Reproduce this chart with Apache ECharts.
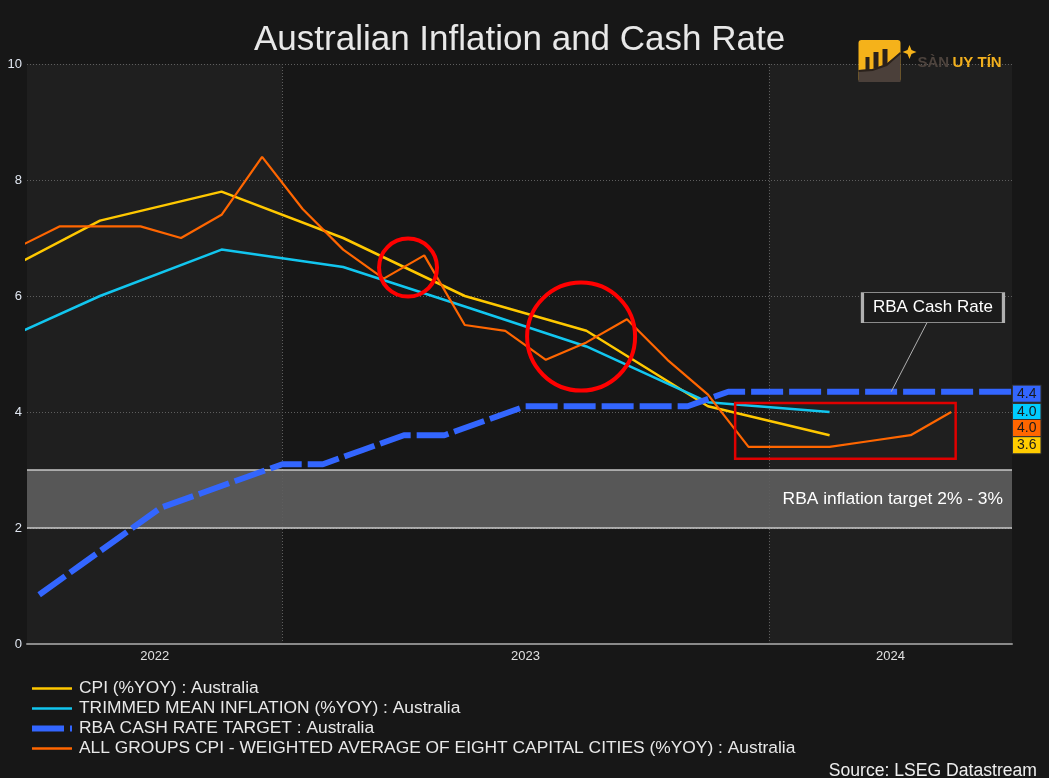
<!DOCTYPE html>
<html><head><meta charset="utf-8">
<script src="https://cdn.jsdelivr.net/npm/echarts@6/dist/echarts.min.js"></script>
<style>html,body{margin:0;padding:0;background:#171717;}#c{width:1049px;height:778px;}</style>
</head><body><div id="c"></div>
<script>
// x positions are months counted from 1 Jan 2022 (12 = Jan 2023, 24 = Jan 2024)
const xMin = 5.7, xMax = 30;
const yearLabels = ['2022', '2023', '2024'];
const yearLabelPos = [8.85, 18, 27];
const yearBoundaries = [12, 24];

const quarterMonths = [4.5, 7.5, 10.5, 13.5, 16.5, 19.5, 22.5, 25.5];
const cpi = [6.2, 7.3, 7.8, 7.0, 6.0, 5.4, 4.1, 3.6];
const trimmedMean = [5.05, 6.0, 6.8, 6.5, 5.82, 5.13, 4.17, 4.0];

const cashMonths = [6, 7, 8, 9, 10, 11, 12, 13, 14, 15, 16, 17, 18, 19, 20, 21, 22, 23, 24, 25, 26, 27, 28, 29, 30];
const cashRate = [0.85, 1.35, 1.85, 2.35, 2.6, 2.85, 3.1, 3.1, 3.35, 3.6, 3.6, 3.85, 4.1, 4.1, 4.1, 4.1, 4.1, 4.35, 4.35, 4.35, 4.35, 4.35, 4.35, 4.35, 4.35];

const monthlyMonths = [5.5, 6.5, 7.5, 8.5, 9.5, 10.5, 11.5, 12.5, 13.5, 14.5, 15.5, 16.5, 17.5, 18.5, 19.5, 20.5, 21.5, 22.5, 23.5, 24.5, 25.5, 26.5, 27.5, 28.5];
const allGroupsCpi = [6.85, 7.2, 7.2, 7.2, 7.0, 7.4, 8.4, 7.5, 6.8, 6.3, 6.7, 5.5, 5.4, 4.9, 5.2, 5.6, 4.9, 4.3, 3.4, 3.4, 3.4, 3.5, 3.6, 4.0];

const names = [
  'CPI (%YOY) : Australia',
  'TRIMMED MEAN INFLATION (%YOY) : Australia',
  'RBA CASH RATE TARGET : Australia',
  'ALL GROUPS CPI - WEIGHTED AVERAGE OF EIGHT CAPITAL CITIES (%YOY) : Australia'
];
const colors = ['#ffc800', '#12c6ef', '#3366ff', '#ff6600'];
const labelColors = ['#ffcc00', '#00ccff', '#3366ff', '#ff6600'];

const targetBand = [2, 3];
const targetText = 'RBA inflation target 2% - 3%';
const calloutText = 'RBA Cash Rate';

const FONT = '"Liberation Sans", Arial, sans-serif';
const zip = (xs, ys) => xs.map((x, i) => [x, ys[i]]);
const fmt = v => (v + 1e-9).toFixed(1);

function lastLabel(i, val, dy) {
  return {
    symbol: 'rect', symbolSize: 0, silent: true,
    data: [{
      coord: [xMax, val],
      label: {
        show: true, position: 'right', distance: 1, offset: [0, dy],
        formatter: fmt(val),
        backgroundColor: labelColors[i], borderColor: '#333', borderWidth: 1,
        padding: [1, 4, 1, 4], color: '#1a1a1a', fontSize: 14, lineHeight: 14, fontFamily: FONT
      }
    }]
  };
}

const chart = echarts.init(document.getElementById('c'), null, {renderer: 'canvas'});
const option = {
  backgroundColor: '#171717',
  animation: false,
  textStyle: {fontFamily: FONT},
  title: [
    {text: 'Australian Inflation and Cash Rate', left: 249, top: 18,
      textStyle: {color: '#e8e8e8', fontSize: 35, fontWeight: 'normal', fontFamily: FONT}},
    {text: 'Source: LSEG Datastream', right: 7, top: 757,
      textStyle: {color: '#eeeeee', fontSize: 17.6, fontWeight: 'normal', fontFamily: FONT}}
  ],
  grid: {left: 27, right: 37, top: 64, bottom: 134, containLabel: false},
  legend: {
    orient: 'vertical', left: 29, top: 680, padding: 0, itemWidth: 40, itemHeight: 14, itemGap: 3,
    itemStyle: {opacity: 0, borderWidth: 0},
    lineStyle: {width: 2.5},
    textStyle: {color: '#e8e8e8', fontSize: 17.4, fontFamily: FONT, padding: [0, 0, 0, 2]},
    data: [
      {name: names[0]}, {name: names[1]},
      {name: names[2], lineStyle: {width: 6}},
      {name: names[3]}
    ]
  },
  xAxis: {
    type: 'value', min: xMin, max: xMax, z: 2,
    axisLine: {show: true, lineStyle: {color: '#8a8a8a', width: 2}},
    axisTick: {show: false},
    splitLine: {show: false},
    axisLabel: {
      customValues: yearLabelPos, margin: 6, color: '#e0e0e0', fontSize: 13,
      formatter: v => yearLabels[yearLabelPos.findIndex(p => Math.abs(p - v) < 1e-6)] || ''
    }
  },
  yAxis: {
    type: 'value', min: 0, max: 10, interval: 2, z: 2,
    axisLine: {show: false}, axisTick: {show: false},
    axisLabel: {color: '#e0e6f0', fontSize: 13, margin: 5},
    splitLine: {show: true, lineStyle: {color: '#5e5e5e', type: [1, 2], width: 1}}
  },
  series: [
    { // year shading + year boundaries
      type: 'line', data: [], silent: true, z: 0,
      markArea: {silent: true, z: 0.5, itemStyle: {color: '#1f1f1f'},
        data: [[{xAxis: xMin}, {xAxis: yearBoundaries[0]}], [{xAxis: yearBoundaries[1]}, {xAxis: xMax}]]},
      markLine: {silent: true, z: 2, symbol: ['none', 'none'], label: {show: false},
        lineStyle: {color: '#5e5e5e', type: [1, 2], width: 1},
        data: yearBoundaries.map(v => ({xAxis: v}))}
    },
    { // inflation target band
      type: 'line', data: [], silent: true, z: 1,
      markArea: {silent: true, z: 1, itemStyle: {color: '#575757'},
        label: {show: true, position: 'insideRight', distance: 9, color: '#ffffff', fontSize: 17.4, fontFamily: FONT},
        data: [[{yAxis: targetBand[0], name: targetText}, {yAxis: targetBand[1]}]]},
      markLine: {silent: true, z: 2.5, symbol: ['none', 'none'], label: {show: false},
        lineStyle: {color: '#c8c8c8', type: 'solid', width: 1.5},
        data: targetBand.map(v => ({yAxis: v}))}
    },
    {name: names[0], type: 'line', data: zip(quarterMonths, cpi), showSymbol: false, symbol: 'none',
      color: colors[0], lineStyle: {width: 2.5, color: colors[0]}, z: 3,
      markPoint: lastLabel(0, cpi[cpi.length - 1], 10)},
    {name: names[1], type: 'line', data: zip(quarterMonths, trimmedMean), showSymbol: false, symbol: 'none',
      color: colors[1], lineStyle: {width: 2.5, color: colors[1]}, z: 3,
      markPoint: lastLabel(1, trimmedMean[trimmedMean.length - 1], 0)},
    {name: names[2], type: 'line', data: zip(cashMonths, cashRate), showSymbol: false, symbol: 'none',
      color: colors[2], lineStyle: {width: 6, color: colors[2], type: [32, 6], cap: 'butt'}, z: 3,
      markPoint: lastLabel(2, cashRate[cashRate.length - 1], 2)},
    {name: names[3], type: 'line', data: zip(monthlyMonths, allGroupsCpi), showSymbol: false, symbol: 'none',
      color: colors[3], lineStyle: {width: 2.2, color: colors[3]}, z: 3,
      markPoint: lastLabel(3, allGroupsCpi[allGroupsCpi.length - 1], 16)},
    { // annotations
      type: 'line', data: [], silent: true, z: 6,
      markArea: {silent: true, z: 6, itemStyle: {color: 'rgba(0,0,0,0)', borderColor: '#e00000', borderWidth: 2.5},
        data: [[{coord: [23.17, 4.155]}, {coord: [28.61, 3.195]}]]},
      markLine: {silent: true, z: 6, symbol: ['none', 'none'], label: {show: false},
        lineStyle: {color: '#b0b0b0', type: 'solid', width: 1},
        data: [[{coord: [27.02, 4.35]}, {coord: [27.91, 5.55]}]]},
      markPoint: {silent: true, z: 7, label: {show: false},
        data: [
          {coord: [15.10, 6.49], symbol: 'circle', symbolSize: 58,
            itemStyle: {color: 'rgba(0,0,0,0)', borderColor: '#ff0000', borderWidth: 4}},
          {coord: [19.37, 5.30], symbol: 'circle', symbolSize: 108,
            itemStyle: {color: 'rgba(0,0,0,0)', borderColor: '#ff0000', borderWidth: 4}},
          {coord: [28.05, 5.80], symbol: 'rect', symbolSize: [141, 30],
            itemStyle: {color: '#1b1b1b', borderColor: '#b0b0b0', borderWidth: 1.5},
            label: {show: true, position: 'inside', formatter: calloutText, color: '#ffffff', fontSize: 17, fontFamily: FONT}}
        ]}
    }
  ],
  graphic: [
    {type: 'group', left: 856, top: 40, z: 100, silent: true, children: [
      {type: 'rect', z: 100, shape: {x: 0, y: 0, width: 42, height: 42, r: 3}, style: {fill: '#f5b21a'}},
      {type: 'polygon', z: 100, shape: {points: [[0, 42], [0, 30], [14, 29], [28, 24], [38, 16], [42, 12], [42, 42]]}, style: {fill: '#4b403a'}},
      {type: 'polyline', z: 100, shape: {points: [[0, 31], [14, 30], [28, 25], [42, 13]]}, style: {stroke: '#2a211b', lineWidth: 2, fill: null}},
      {type: 'rect', z: 100, shape: {x: 7, y: 17, width: 4, height: 13}, style: {fill: '#2a211b'}},
      {type: 'rect', z: 100, shape: {x: 15, y: 12, width: 5, height: 16}, style: {fill: '#2a211b'}},
      {type: 'rect', z: 100, shape: {x: 24, y: 9, width: 5, height: 16}, style: {fill: '#2a211b'}},
      {type: 'polygon', z: 100, shape: {points: [[51, 5], [53, 10], [58, 12], [53, 14], [51, 19], [49, 14], [44, 12], [49, 10]]}, style: {fill: '#f5b21a'}},
      {type: 'text', z: 100, x: 59, y: 23, style: {text: 'SÀN', fill: '#4d433d', font: 'bold 15px "Liberation Sans", Arial, sans-serif', verticalAlign: 'middle'}},
      {type: 'text', z: 100, x: 94, y: 23, style: {text: 'UY TÍN', fill: '#f2b01e', font: 'bold 15px "Liberation Sans", Arial, sans-serif', verticalAlign: 'middle'}}
    ]}
  ]
};
chart.setOption(option);
</script>
</body></html>
